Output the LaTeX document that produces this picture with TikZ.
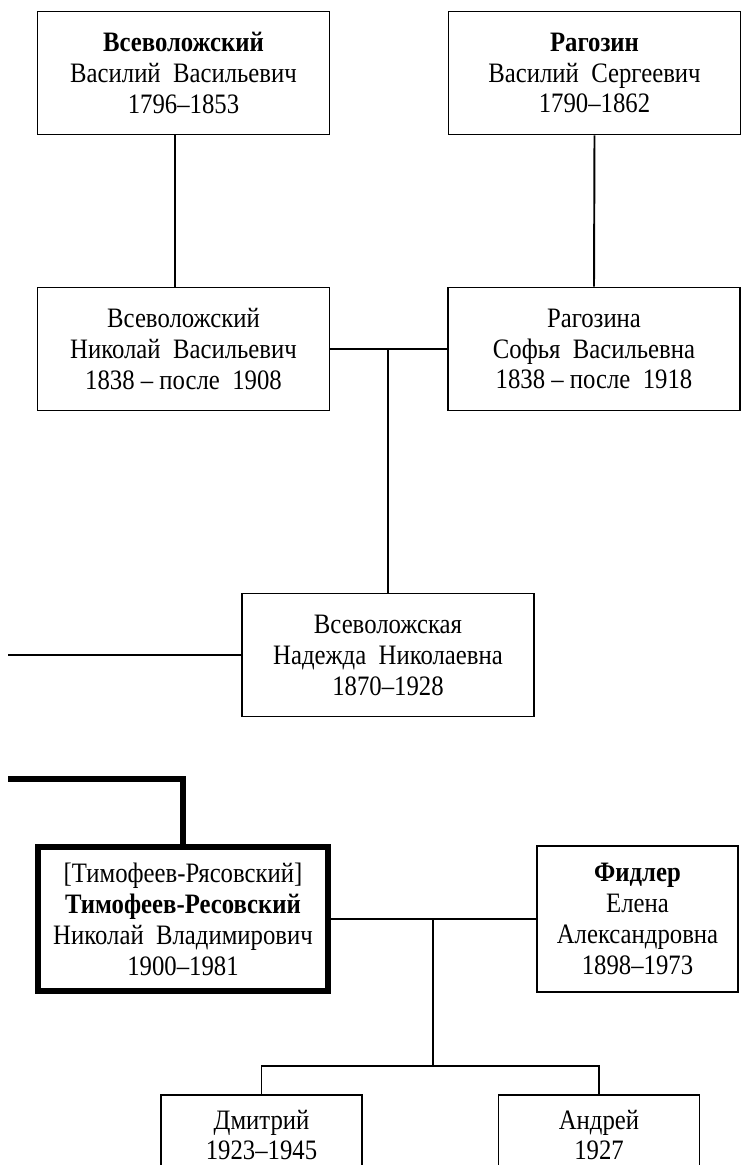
\documentclass[tikz,border=0pt]{standalone}
\usepackage{fontspec}
\setmainfont{Liberation Serif}[FakeStretch=0.88]

\begin{document}
\begin{tikzpicture}[x=0.2mm,y=-0.2mm,
  person/.style={draw, line width=1.1pt, align=center, inner sep=0pt,
    font=\fontsize{16}{17.6}\selectfont, minimum width=58.4mm, minimum height=24.6mm},
  mainperson/.style={person, line width=3.2pt, minimum width=58mm, minimum height=28.8mm},
  kid/.style={person, minimum width=40.2mm, minimum height=16mm},
  link/.style={line width=1.1pt},
  mainlink/.style={line width=3.2pt}]
\useasboundingbox (0,0) rectangle (742,1165);
\begin{scope}
\clip (0,0) rectangle (742,1165);
\node[person] (vvv) at (183.5,73) {\textbf{Всеволожский}\\Василий\ \ Васильевич\\1796–1853};
\node[person] (rvs) at (594.5,73) {\textbf{Рагозин}\\Василий\ \ Сергеевич\\1790–1862};
\node[person] (vnv) at (183.5,349) {Всеволожский\\Николай\ \ Васильевич\\1838 – после\ \ 1908};
\node[person] (rsv) at (594,349) {Рагозина\\Софья\ \ Васильевна\\1838 – после\ \ 1918};
\node[person] (vnn) at (388,655) {Всеволожская\\Надежда\ \ Николаевна\\1870–1928};
\node[mainperson] (tnv) at (183,919) {[Тимофеев-Рясовский]\\\textbf{Тимофеев-Ресовский}\\Николай\ \ Владимирович\\1900–1981};
\node[person, minimum width=40.2mm, minimum height=29.2mm] (fea) at (637.5,919) {\textbf{Фидлер}\\Елена\\Александровна\\1898–1973};
\node[kid] (dmi) at (261.5,1135) {Дмитрий\\1923–1945};
\node[kid] (and) at (599,1135) {Андрей\\1927};

\coordinate (vnnin) at (8,655);
\coordinate (tnvin) at (8,779);
\coordinate (kids) at (433,1066);

% parents of Nikolai and Sofya
\draw[link] ([xshift=-1.7mm]vvv.south) -- ([xshift=-1.7mm]vnv.north);
\draw[link] (rvs.south) -- (rsv.north);
% marriage and daughter
\draw[link] (vnv.east) -- (rsv.west);
\draw[link] (vnn.north) -- (vnn.north |- vnv.east);
\draw[link] (vnnin) -- (vnn.west);
% main line
\draw[mainlink] (tnvin) -| (tnv.north);
% marriage and sons
\draw[link] (tnv.east) -- (fea.west);
\draw[link] (kids |- tnv.east) -- (kids);
\draw[link] (dmi.north) |- (kids) -| (and.north);
\end{scope}
\end{tikzpicture}
\end{document}
